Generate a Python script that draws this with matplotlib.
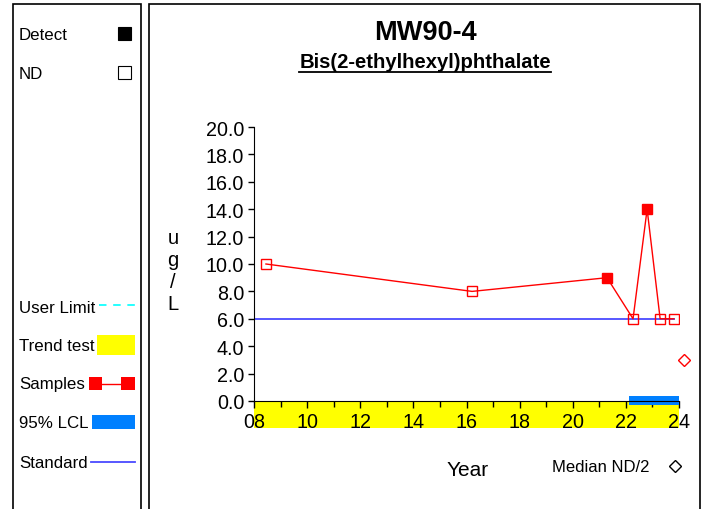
import numpy as np
import matplotlib
matplotlib.use("Agg")
import matplotlib.pyplot as plt
from matplotlib.patches import Rectangle
from matplotlib.lines import Line2D

plt.rcParams['font.family'] = ['Liberation Sans', 'DejaVu Sans']

# ---- data ----
well = "MW90-4"
analyte = "Bis(2-ethylhexyl)phthalate"
units_label = ["u", "g", "/", "L"]
sample_years = [8.45, 16.21, 21.29, 22.27, 22.80, 23.29, 23.81]   # years since 2000
sample_values = [10.0, 8.0, 9.0, 6.0, 14.0, 6.0, 6.0]
sample_detect = [False, False, True, False, True, False, False]
standard_value = 6.0
median_nd_half = 3.0
lcl_years = [22.12, 24.0]
lcl_band = [-0.3, 0.37]
trend_years = [8.0, 24.0]
year_ticks = [8, 10, 12, 14, 16, 18, 20, 22, 24]
year_labels = ["08", "10", "12", "14", "16", "18", "20", "22", "24"]
y_ticks = [0, 2, 4, 6, 8, 10, 12, 14, 16, 18, 20]

RED = "#ff0000"
BLUE_STD = "#4a4aff"
BLUE_LCL = "#0080ff"
YELLOW = "#ffff00"
CYAN = "#00ffff"

W, H = 707, 510
fig = plt.figure(figsize=(W / 100, H / 100), dpi=100)


def fx(x):
    return x / W


def fy(y):
    return 1 - y / H


def frect(x0, y0, x1, y1, **kw):
    fig.add_artist(Rectangle((fx(x0), fy(y1)), fx(x1) - fx(x0), fy(y0) - fy(y1),
                             transform=fig.transFigure, **kw))


def fline(xs, ys, **kw):
    fig.add_artist(Line2D([fx(v) for v in xs], [fy(v) for v in ys],
                          transform=fig.transFigure, **kw))


# ---- panel frames ----
frect(12.5, 5, 141, 520, fill=False, ec="black", lw=1.2)
frect(148.5, 5, 700, 520, fill=False, ec="black", lw=1.2)

# ---- left legend panel ----
lg_fs = 12.2
dy = 1.5
fig.text(fx(19), fy(34 + dy), "Detect", fontsize=lg_fs, va="center", ha="left")
frect(118, 28, 131, 41, fc="black", ec="black", lw=0.8)
fig.text(fx(19), fy(73 + dy), "ND", fontsize=lg_fs, va="center", ha="left")
frect(118, 67, 131, 80, fc="white", ec="black", lw=0.8)

fig.text(fx(19), fy(307 + dy), "User Limit", fontsize=lg_fs, va="center", ha="left")
fline([99, 135], [306, 306], color=CYAN, lw=1.2, ls=(0, (4.5, 4)))

fig.text(fx(19), fy(345 + dy), "Trend test", fontsize=lg_fs, va="center", ha="left")
frect(97, 336, 135, 356, fc=YELLOW, ec="none")

fig.text(fx(19), fy(383 + dy), "Samples", fontsize=lg_fs, va="center", ha="left")
fline([95, 128], [384.5, 384.5], color=RED, lw=1)
frect(88.5, 378, 102, 391, fc=RED, ec="none")
frect(121, 378, 134.5, 391, fc=RED, ec="none")

fig.text(fx(19), fy(422 + dy), "95% LCL", fontsize=lg_fs, va="center", ha="left")
frect(92, 416, 134.5, 430, fc=BLUE_LCL, ec="none")

fig.text(fx(19), fy(462 + dy), "Standard", fontsize=lg_fs, va="center", ha="left")
fline([91, 134.5], [462.5, 462.5], color=BLUE_STD, lw=1.3)

# ---- titles ----
fig.text(fx(425), fy(33), well, fontsize=19.5, fontweight="bold", ha="center", va="center")
sub = fig.text(fx(425), fy(68.3), analyte, fontsize=14.6, fontweight="bold",
               ha="center", va="baseline")
renderer = fig.canvas.get_renderer()
bb = sub.get_window_extent(renderer=renderer)
fig.add_artist(Line2D([bb.x0 / fig.bbox.width, bb.x1 / fig.bbox.width],
                      [fy(72.5), fy(72.5)], transform=fig.transFigure,
                      color="black", lw=1.3))

# ---- main axes ----
ax = fig.add_axes([fx(254), fy(402), fx(679) - fx(254), fy(128) - fy(402)])
ax.set_xlim(8, 24)
ax.set_ylim(0, 20)
for s in ("top", "right"):
    ax.spines[s].set_visible(False)
ax.patch.set_alpha(0)

ax.set_yticks(y_ticks)
ax.set_yticklabels([f"{v:.1f}" for v in y_ticks])
ax.set_xticks(year_ticks)
ax.set_xticklabels(year_labels)
ax.set_xticks(np.arange(8, 25, 1), minor=True)
ax.tick_params(axis="both", which="major", labelsize=14.2, direction="out", length=4, width=1)
ax.tick_params(axis="y", pad=3)
ax.tick_params(axis="x", which="major", pad=3, length=5)
ax.tick_params(axis="x", which="minor", length=4, width=1)

# trend-test band under the time axis
ax.add_patch(Rectangle((trend_years[0], -1.97), trend_years[1] - trend_years[0], 1.97,
                       fc=YELLOW, ec="none", clip_on=False, zorder=0.5))
# 95% LCL bar
ax.add_patch(Rectangle((lcl_years[0], lcl_band[0]), lcl_years[1] - lcl_years[0],
                       lcl_band[1] - lcl_band[0], fc=BLUE_LCL, ec="none",
                       clip_on=False, zorder=2))

# standard
ax.plot([trend_years[0], sample_years[-1]], [standard_value, standard_value],
        color=BLUE_STD, lw=1.3, zorder=2)

# samples
yrs = np.array(sample_years)
vals = np.array(sample_values)
det = np.array(sample_detect)
ax.plot(yrs, vals, color=RED, lw=1, zorder=3)
ax.plot(yrs[det], vals[det], ls="none", marker="s", ms=7, color=RED, mec=RED, zorder=4)
ax.plot(yrs[~det], vals[~det], ls="none", marker="s", ms=7, mfc="none", mec=RED,
        mew=1, zorder=4)

# median ND/2 marker
ax.plot([24.19], [median_nd_half], ls="none", marker="D", ms=6.3, mfc="none",
        mec=RED, mew=1, clip_on=False, zorder=4)

# units label, stacked letters
for i, ch in enumerate(units_label):
    fig.text(fx(173), fy(238 + i * 22.3), ch, fontsize=14.5, ha="center", va="center")

fig.text(fx(468), fy(471), "Year", fontsize=15, ha="center", va="center")
fig.text(fx(552), fy(468), "Median ND/2", fontsize=12, ha="left", va="center")
fig.add_artist(Line2D([fx(675)], [fy(467)], transform=fig.transFigure, ls="none",
                      marker="D", ms=6.3, mfc="white", mec="black", mew=1))

fig.savefig("out.png", dpi=100)
